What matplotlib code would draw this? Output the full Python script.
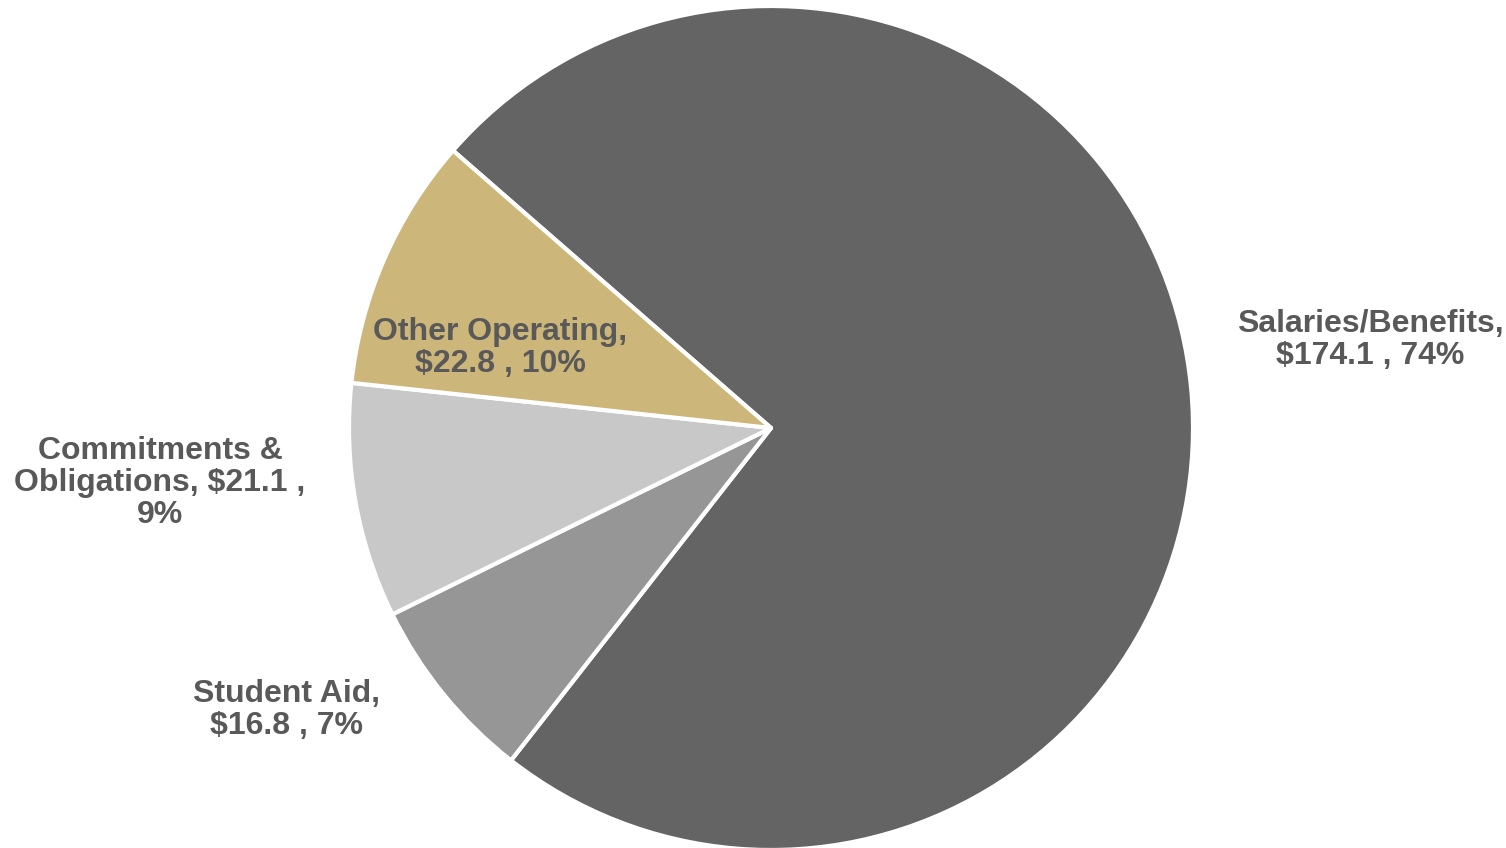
import matplotlib.pyplot as plt

categories = ["Salaries/Benefits", "Student Aid", "Commitments &\nObligations", "Other Operating"]
amounts = [174.1, 16.8, 21.1, 22.8]
percents = ["74%", "7%", "9%", "10%"]
label_texts = [
    "Salaries/Benefits,\n$174.1 , 74%",
    "Student Aid,\n$16.8 , 7%",
    "Commitments &\nObligations, $21.1 ,\n9%",
    "Other Operating,\n$22.8 , 10%",
]
colors = ["#646464", "#969696", "#c8c8c8", "#cdb67a"]

# layout in pixel units (axes spans the whole figure)
W, H = 1506, 848
center = (771, H - 428)
radius = 422
label_pos = [(1370, H - 340), (287, H - 710), (160, H - 483), (500, H - 348)]

fig = plt.figure(figsize=(W / 100, H / 100), dpi=100)
ax = fig.add_axes([0, 0, 1, 1])
ax.pie(
    amounts,
    colors=colors,
    startangle=138.9,
    counterclock=False,
    center=center,
    radius=radius,
    wedgeprops=dict(edgecolor="white", linewidth=3, joinstyle="round"),
)
for txt, (x, y) in zip(label_texts, label_pos):
    ax.text(x, y, txt, ha="center", va="center", fontsize=23, fontweight="bold",
            color="#595959", family="Liberation Sans", linespacing=1.08)

ax.set_xlim(0, W)
ax.set_ylim(0, H)
ax.set_aspect("equal")
ax.axis("off")
fig.savefig("out.png", dpi=100, facecolor="white")
